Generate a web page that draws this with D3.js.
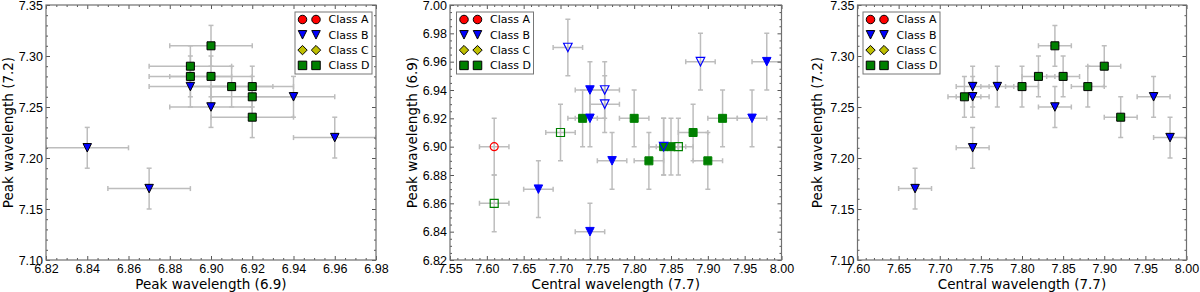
<!DOCTYPE html>
<html>
<head>
<meta charset="UTF-8">
<title>Peak wavelengths</title>
<script src="https://cdn.jsdelivr.net/npm/d3@7/dist/d3.min.js"></script>
<style>
  body { margin: 0; background: #fff; }
  svg { font-family: "DejaVu Sans", sans-serif; }
  .tick text { fill: #000; }
</style>
</head>
<body>
<script>

// ---- data ----
// left panel: peak 6.9 vs peak 7.2
var p1BX = [6.84, 6.87, 6.89, 6.90, 6.94, 6.96],
    p1BY = [7.21, 7.17, 7.27, 7.25, 7.26, 7.22];
var p1DX = [6.90, 6.89, 6.89, 6.90, 6.91, 6.92, 6.92, 6.92],
    p1DY = [7.31, 7.29, 7.28, 7.28, 7.27, 7.27, 7.26, 7.24];

// middle panel: central 7.7 vs peak 6.9 (open = hollow markers)
var p2DX = [7.73, 7.80, 7.82, 7.84, 7.85, 7.88, 7.90, 7.92],
    p2DY = [6.92, 6.92, 6.89, 6.90, 6.90, 6.91, 6.89, 6.92];
var p2BX = [7.67, 7.74, 7.74, 7.74, 7.77, 7.96, 7.98],
    p2BY = [6.87, 6.84, 6.94, 6.92, 6.89, 6.92, 6.96];
var p2AOpenX = [7.61],
    p2AOpenY = [6.90];
var p2DOpenX = [7.61, 7.70, 7.86],
    p2DOpenY = [6.86, 6.91, 6.90];
var p2BOpenX = [7.71, 7.76, 7.76, 7.89, 7.84],
    p2BOpenY = [6.97, 6.94, 6.93, 6.96, 6.90];

// right panel: central 7.7 vs peak 7.2
var p3DX = [7.73, 7.80, 7.82, 7.84, 7.85, 7.88, 7.90, 7.92],
    p3DY = [7.26, 7.27, 7.28, 7.31, 7.28, 7.27, 7.29, 7.24];
var p3BX = [7.67, 7.74, 7.74, 7.74, 7.77, 7.84, 7.96, 7.98],
    p3BY = [7.17, 7.27, 7.26, 7.21, 7.27, 7.25, 7.26, 7.22];

var errX = 0.02, errY = 0.02;

var p1XTicks = [6.82, 6.84, 6.86, 6.88, 6.90, 6.92, 6.94, 6.96, 6.98],
    p1YTicks = [7.10, 7.15, 7.20, 7.25, 7.30, 7.35];
var p2XTicks = [7.55, 7.60, 7.65, 7.70, 7.75, 7.80, 7.85, 7.90, 7.95, 8.00],
    p2YTicks = [6.82, 6.84, 6.86, 6.88, 6.90, 6.92, 6.94, 6.96, 6.98, 7.00];
var p3XTicks = [7.60, 7.65, 7.70, 7.75, 7.80, 7.85, 7.90, 7.95, 8.00],
    p3YTicks = [7.10, 7.15, 7.20, 7.25, 7.30, 7.35];

var legendNames = ["Class A", "Class B", "Class C", "Class D"];
var legendShapes = ["circle", "tri", "diamond", "square"];
var legendColors = ["#ff0000", "#0000ff", "#bfbf00", "#008000"];

// ---- drawing ----
var svg = d3.select("body").append("svg")
    .attr("width", 1200)
    .attr("height", 292);

var top0 = 5, bottom0 = 260;
var ms = 8;

//Path for a marker centred at 0,0
function markerPath(shape, s) {
    var h = s / 2;
    if (shape == "tri") return "M" + (-h) + "," + (-h) + "L" + h + "," + (-h) + "L0," + h + "Z";
    if (shape == "square") return "M" + (-h) + "," + (-h) + "h" + s + "v" + s + "h" + (-s) + "Z";
    if (shape == "diamond") { var d = h * 1.1; return "M0," + (-d) + "L" + d + ",0L0," + d + "L" + (-d) + ",0Z"; }
    return d3.symbol(d3.symbolCircle, Math.PI * h * h)();
}

function minorTicks(ticks, n) {
    var out = [], step = (ticks[1] - ticks[0]) / n;
    for (var i = 0; i < ticks.length - 1; i++)
        for (var k = 1; k < n; k++) out.push(ticks[i] + k * step);
    return out;
}

function drawPanel(p) {
    var g = svg.append("g");
    var x = d3.scaleLinear().domain([p.xTicks[0], p.xTicks[p.xTicks.length - 1]]).range([p.left, p.right]);
    var y = d3.scaleLinear().domain([p.yTicks[0], p.yTicks[p.yTicks.length - 1]]).range([bottom0, top0]);
    var fmt = d3.format(".2f");
    var xMinor = minorTicks(p.xTicks, p.xDiv), yMinor = minorTicks(p.yTicks, p.yDiv);

    var clipId = "clip" + p.id;
    svg.append("clipPath").attr("id", clipId).append("rect")
        .attr("x", p.left).attr("y", top0).attr("width", p.right - p.left).attr("height", bottom0 - top0);

    var plot = g.append("g").attr("clip-path", "url(#" + clipId + ")");

    //error bars first, then markers on top
    p.series.forEach(function (s) {
        var eb = plot.append("g").attr("stroke", "#bdbdbd").attr("stroke-width", 1.5);
        s.xs.forEach(function (xv, i) {
            var yv = s.ys[i];
            var cx = x(xv), cy = y(yv);
            var x0 = x(xv - errX), x1 = x(xv + errX), y0 = y(yv - errY), y1 = y(yv + errY);
            eb.append("line").attr("x1", x0).attr("x2", x1).attr("y1", cy).attr("y2", cy);
            eb.append("line").attr("x1", cx).attr("x2", cx).attr("y1", y0).attr("y2", y1);
            eb.append("line").attr("x1", x0).attr("x2", x0).attr("y1", cy - 2.5).attr("y2", cy + 2.5);
            eb.append("line").attr("x1", x1).attr("x2", x1).attr("y1", cy - 2.5).attr("y2", cy + 2.5);
            eb.append("line").attr("x1", cx - 2.5).attr("x2", cx + 2.5).attr("y1", y0).attr("y2", y0);
            eb.append("line").attr("x1", cx - 2.5).attr("x2", cx + 2.5).attr("y1", y1).attr("y2", y1);
        });
    });
    p.series.forEach(function (s) {
        plot.append("g").selectAll("path").data(s.xs).join("path")
            .attr("transform", function (d, i) { return "translate(" + x(d) + "," + y(s.ys[i]) + ")"; })
            .attr("d", markerPath(s.shape, s.size || ms))
            .attr("fill", s.open ? "none" : s.color)
            .attr("stroke", s.edge)
            .attr("stroke-width", s.open ? 1.2 : 1);
    });

    //axes: ticks point inward on every side
    function addAxis(axisFn, scale, ticks, size, tx, ty, labels) {
        var a = axisFn(scale).tickValues(ticks).tickSize(size).tickPadding(labels ? 4 : 0)
            .tickFormat(labels ? fmt : "");
        var ag = g.append("g").attr("transform", "translate(" + tx + "," + ty + ")").call(a);
        ag.select(".domain").remove();
        ag.selectAll(".tick line").attr("stroke", "#555");
        ag.selectAll("text").attr("font-size", 12.5);
        return ag;
    }
    addAxis(d3.axisBottom, x, p.xTicks, -4, 0, bottom0, true);
    addAxis(d3.axisBottom, x, xMinor, -2, 0, bottom0, false);
    addAxis(d3.axisTop, x, p.xTicks, -4, 0, top0, false);
    addAxis(d3.axisTop, x, xMinor, -2, 0, top0, false);
    addAxis(d3.axisLeft, y, p.yTicks, -4, p.left, 0, true).selectAll("text").attr("x", -3);
    addAxis(d3.axisLeft, y, yMinor, -2, p.left, 0, false);
    addAxis(d3.axisRight, y, p.yTicks, -4, p.right, 0, false);
    addAxis(d3.axisRight, y, yMinor, -2, p.right, 0, false);

    g.append("rect").attr("x", p.left).attr("y", top0)
        .attr("width", p.right - p.left).attr("height", bottom0 - top0)
        .attr("fill", "none").attr("stroke", "#707070").attr("stroke-width", 1.2);

    g.append("text").attr("x", (p.left + p.right) / 2).attr("y", 289)
        .attr("text-anchor", "middle").attr("font-size", 13.5).text(p.xLabel);
    g.append("text").attr("transform", "translate(" + p.yLabelX + "," + (top0 + bottom0) / 2 + ") rotate(-90)")
        .attr("text-anchor", "middle").attr("font-size", 13.5).text(p.yLabel);

    //legend
    var lg = g.append("g").attr("transform", "translate(" + p.legX + ",12)");
    lg.append("rect").attr("width", 77).attr("height", 62)
        .attr("fill", "#fff").attr("stroke", "#777").attr("stroke-width", 1);
    legendNames.forEach(function (name, i) {
        var ry = 7.5 + i * 15.3;
        [7.5, 21].forEach(function (mx) {
            lg.append("path").attr("transform", "translate(" + mx + "," + ry + ")")
                .attr("d", markerPath(legendShapes[i], 8.5))
                .attr("fill", legendColors[i]).attr("stroke", "#000").attr("stroke-width", 1);
        });
        lg.append("text").attr("x", 33.5).attr("y", ry).attr("dy", "0.36em")
            .attr("font-size", 11).text(name);
    });
}

var filledB = { shape: "tri", color: "#0000ff", edge: "#000", size: 8.5 },
    filledD = { shape: "square", color: "#008000", edge: "#000" };

drawPanel({
    id: 1, left: 46, right: 376, xTicks: p1XTicks, yTicks: p1YTicks, xDiv: 4, yDiv: 5,
    xLabel: "Peak wavelength (6.9)", yLabel: "Peak wavelength (7.2)", yLabelX: 13, legX: 295,
    series: [
        Object.assign({ xs: p1BX, ys: p1BY }, filledB),
        Object.assign({ xs: p1DX, ys: p1DY }, filledD)
    ]
});

drawPanel({
    id: 2, left: 450, right: 781.5, xTicks: p2XTicks, yTicks: p2YTicks, xDiv: 5, yDiv: 4,
    xLabel: "Central wavelength (7.7)", yLabel: "Peak wavelength (6.9)", yLabelX: 417, legX: 456.5,
    series: [
        { xs: p2DX, ys: p2DY, shape: "square", color: "#008000", edge: "#008000" },
        { xs: p2BX, ys: p2BY, shape: "tri", color: "#0000ff", edge: "#0000ff", size: 8.5 },
        { xs: p2AOpenX, ys: p2AOpenY, shape: "circle", color: "#ff0000", edge: "#ff0000", open: true },
        { xs: p2DOpenX, ys: p2DOpenY, shape: "square", color: "#008000", edge: "#008000", open: true },
        { xs: p2BOpenX, ys: p2BOpenY, shape: "tri", color: "#0000ff", edge: "#0000ff", open: true, size: 8.5 }
    ]
});

drawPanel({
    id: 3, left: 857.5, right: 1186.5, xTicks: p3XTicks, yTicks: p3YTicks, xDiv: 5, yDiv: 5,
    xLabel: "Central wavelength (7.7)", yLabel: "Peak wavelength (7.2)", yLabelX: 822, legX: 863,
    series: [
        Object.assign({ xs: p3BX, ys: p3BY }, filledB),
        Object.assign({ xs: p3DX, ys: p3DY }, filledD)
    ]
});

</script>
</body>
</html>
